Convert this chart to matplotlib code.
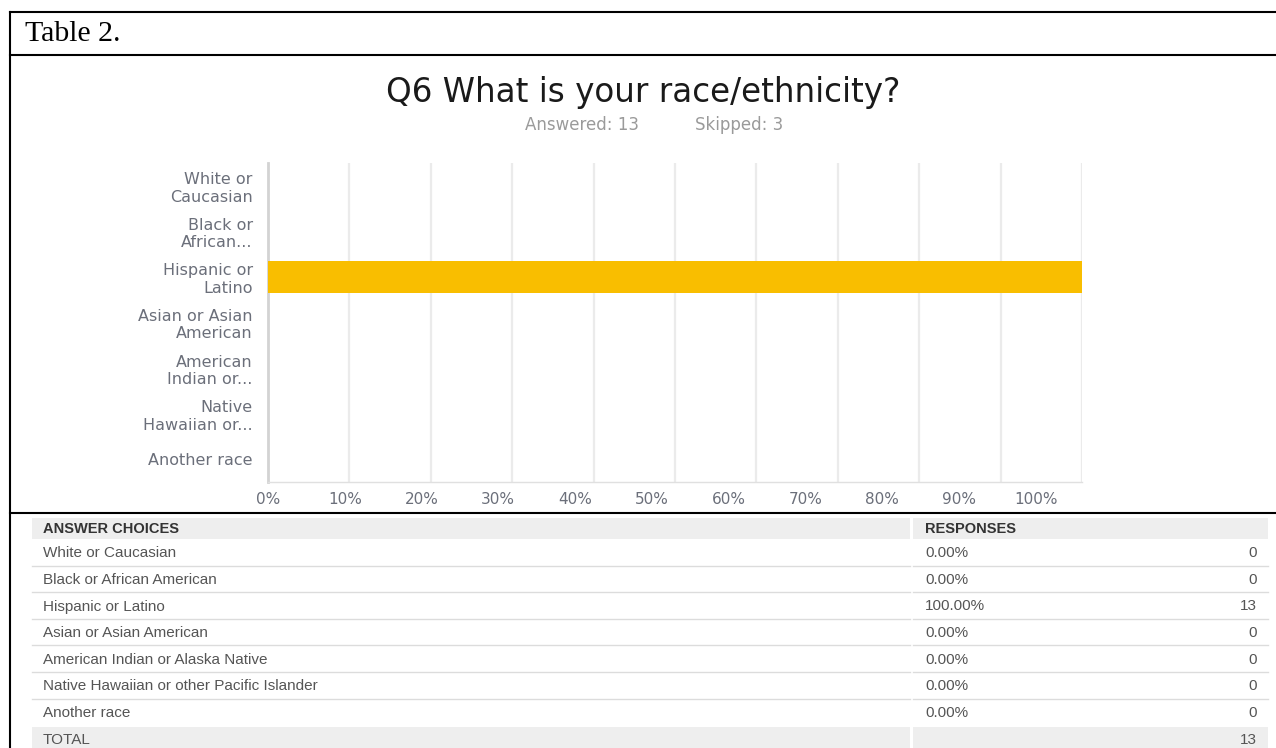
import numpy as np
import matplotlib
matplotlib.use('Agg')
import matplotlib.pyplot as plt
from matplotlib.patches import Rectangle

# Q6 race/ethnicity survey results
question = "Q6 What is your race/ethnicity?"
answered = 13
skipped = 3

bar_labels = ["White or\nCaucasian", "Black or\nAfrican...", "Hispanic or\nLatino",
              "Asian or Asian\nAmerican", "American\nIndian or...", "Native\nHawaiian or...",
              "Another race"]
choices = ["White or Caucasian", "Black or African American", "Hispanic or Latino",
           "Asian or Asian American", "American Indian or Alaska Native",
           "Native Hawaiian or other Pacific Islander", "Another race"]
share_pct = [0.0, 0.0, 100.0, 0.0, 0.0, 0.0, 0.0]
counts = [0, 0, 13, 0, 0, 0, 0]
total = 13
x_ticks = [0, 10, 20, 30, 40, 50, 60, 70, 80, 90, 100]

W, H = 1276, 748
fig = plt.figure(figsize=(W / 100, H / 100), dpi=100)

# background axes in pixel coordinates for the frame and the table
bg = fig.add_axes([0, 0, 1, 1])
bg.set_xlim(0, W)
bg.set_ylim(H, 0)
bg.axis('off')

lw_border = 1.5
bg.plot([10, W], [12, 12], color='black', lw=lw_border)
bg.plot([10, W], [55, 55], color='black', lw=lw_border)
bg.plot([10, W], [513, 513], color='black', lw=lw_border)
bg.plot([10, 10], [12, H], color='black', lw=lw_border)

bg.text(25, 34, "Table 2.", family='Liberation Serif', fontsize=21.5, va='center', ha='left')

bg.text(643, 92, question, family='DejaVu Sans', fontsize=23.5, va='center', ha='center', color='#1a1a1a')
bg.text(582, 125, "Answered: %d" % answered, family='DejaVu Sans', fontsize=12, va='center', ha='center', color='#9a9a9a')
bg.text(739, 125, "Skipped: %d" % skipped, family='DejaVu Sans', fontsize=12, va='center', ha='center', color='#9a9a9a')

# table
tab_font = 'Liberation Sans'
txt_col = '#555555'
head_col = '#333333'
gray = '#eeeeee'
x0, xs, xs2, x1 = 32, 910, 913, 1268
top = 518
hdr_bot = 539
pitch = 26.6
fs_tab = 11

bg.add_patch(Rectangle((x0, top), xs - x0, hdr_bot - top, color=gray, lw=0))
bg.add_patch(Rectangle((xs2, top), x1 - xs2, hdr_bot - top, color=gray, lw=0))
bg.text(43, 529, "ANSWER CHOICES", family=tab_font, fontsize=10.5, weight='bold', color=head_col, va='center')
bg.text(925, 529, "RESPONSES", family=tab_font, fontsize=10.5, weight='bold', color=head_col, va='center')

n = len(choices)
for i in range(n):
    yc = hdr_bot + pitch * (i + 0.5) + 1
    bg.text(43, yc, choices[i], family=tab_font, fontsize=fs_tab, color=txt_col, va='center')
    bg.text(925, yc, "%.2f%%" % share_pct[i], family=tab_font, fontsize=fs_tab, color=txt_col, va='center')
    bg.text(1257, yc, str(counts[i]), family=tab_font, fontsize=fs_tab, color=txt_col, va='center', ha='right')
    if i < n - 1:
        yl = hdr_bot + pitch * (i + 1)
        bg.plot([x0, xs], [yl, yl], color='#dcdcdc', lw=1)
        bg.plot([xs2, x1], [yl, yl], color='#dcdcdc', lw=1)

tot_top = hdr_bot + pitch * n + 2
bg.add_patch(Rectangle((x0, tot_top), xs - x0, H - tot_top, color=gray, lw=0))
bg.add_patch(Rectangle((xs2, tot_top), x1 - xs2, H - tot_top, color=gray, lw=0))
bg.text(43, 740, "TOTAL", family=tab_font, fontsize=fs_tab, color=txt_col, va='center')
bg.text(1257, 740, str(total), family=tab_font, fontsize=fs_tab, color=txt_col, va='center', ha='right')

# bar chart
ax = fig.add_axes([268 / W, 1 - 482 / H, (1082 - 268) / W, (482 - 163) / H])
ax.set_facecolor('none')
ypos = np.arange(len(bar_labels))
ax.barh(ypos, share_pct, height=0.72, color='#F9BE00', zorder=3)
ax.set_xlim(0, 100)
ax.set_ylim(len(bar_labels) - 0.5, -0.5)

# grid on every 10%; the labels in the source sit slightly compressed
ax.set_xticks(x_ticks, minor=True)
ax.grid(True, which='minor', axis='x', color='#ebebeb', lw=1.6, zorder=0)
label_shrink = 0.943
ax.set_xticks([t * label_shrink for t in x_ticks])
ax.set_xticklabels(["%d%%" % t for t in x_ticks])
ax.tick_params(axis='x', which='both', length=0, pad=7, labelsize=11, labelcolor='#6b6f7a')

ax.set_yticks(ypos)
ax.set_yticklabels(bar_labels, multialignment='right', linespacing=1.2)
ax.tick_params(axis='y', length=0, pad=11, labelsize=11.5, labelcolor='#6b6f7a')
for lab in ax.get_xticklabels() + ax.get_yticklabels():
    lab.set_family('DejaVu Sans')

for s in ['top', 'right']:
    ax.spines[s].set_visible(False)
ax.spines['left'].set_color('#d3d3d3')
ax.spines['left'].set_linewidth(2)
ax.spines['bottom'].set_color('#e0e0e0')
ax.spines['bottom'].set_linewidth(1)

fig.savefig("out.png", dpi=100)
